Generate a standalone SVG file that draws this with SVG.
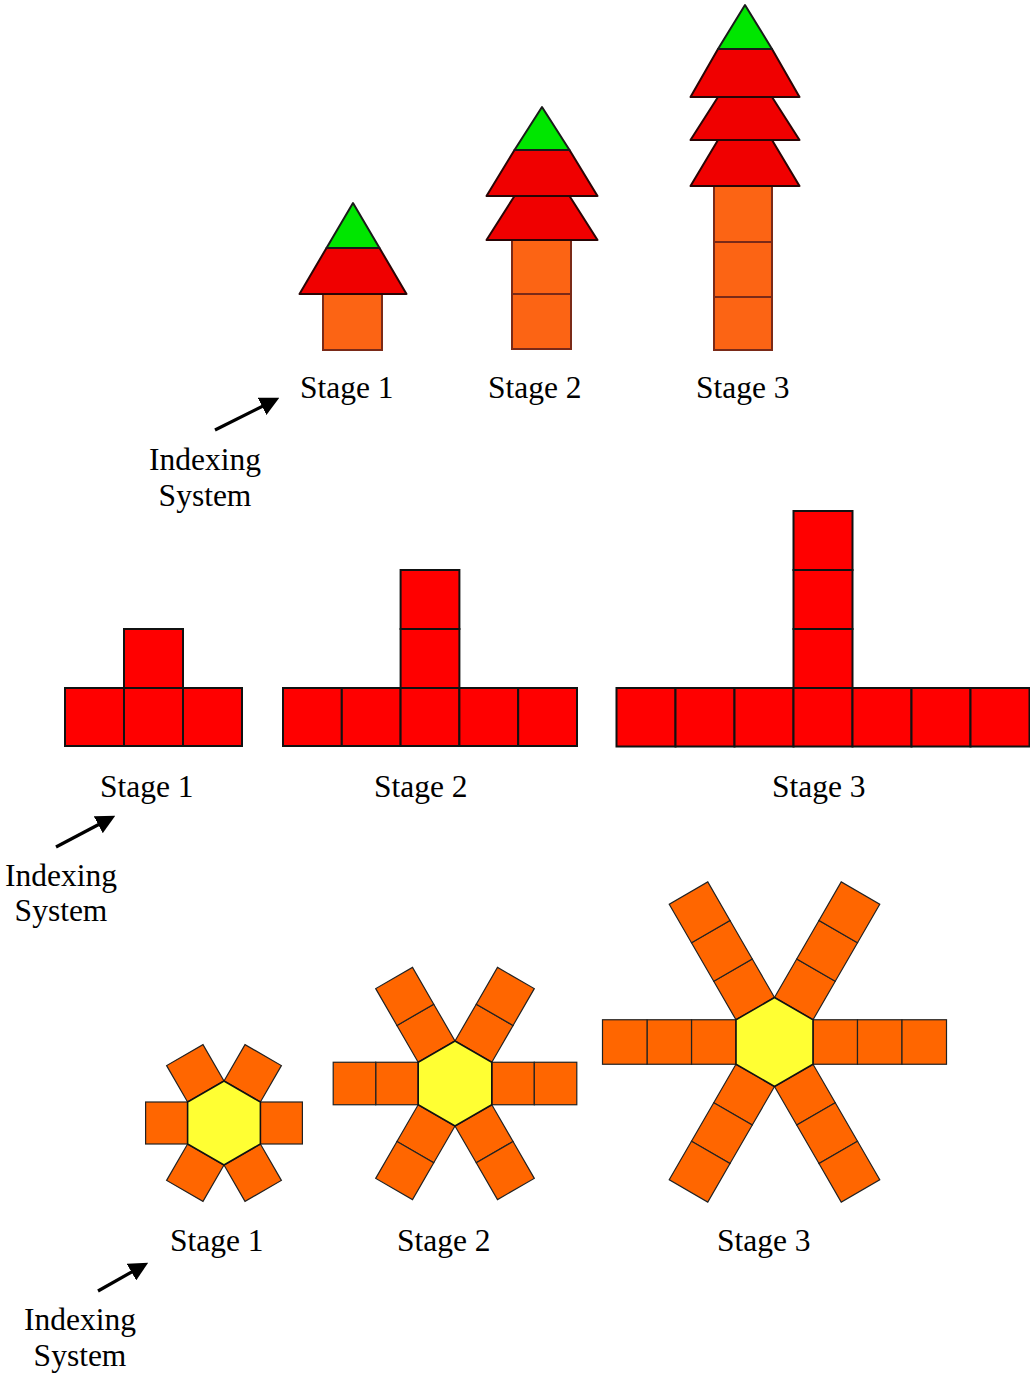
<svg xmlns="http://www.w3.org/2000/svg" width="1030" height="1374" viewBox="0 0 1030 1374">
<style>
.lbl{font-family:"Liberation Serif","Times New Roman",serif;font-size:31.5px;fill:#000}
.mid{text-anchor:middle}
.tri-g{fill:#00e600;stroke:#1a1a1a;stroke-width:2;stroke-linejoin:round}
.tri-r{fill:#f00000;stroke:#2a0505;stroke-width:2;stroke-linejoin:round}
.trunk{fill:#fc6414;stroke:#7a2a18;stroke-width:2}
.rsq{fill:#ff0000;stroke:#111;stroke-width:2}
.osq{fill:#ff6600;stroke:#222;stroke-width:1.2}
.hex{fill:#ffff33;stroke:#111;stroke-width:1.6;stroke-linejoin:round}
.arrow{stroke:#000;stroke-width:3.2;fill:none}
</style>
<defs>
<marker id="ah" markerWidth="6" markerHeight="6" refX="4.5" refY="3" orient="auto" markerUnits="strokeWidth">
<path d="M0,0 L6,3 L0,6 Z" fill="#000"/>
</marker>
</defs>

<!-- Row 1: trees -->
<g id="tree1">
<rect class="trunk" x="323" y="294" width="59" height="56"/>
<polygon class="tri-r" points="326.5,248 379.5,248 406.5,294 299.5,294"/>
<polygon class="tri-g" points="353,203 379.5,248 326.5,248"/>
</g>
<g id="tree2">
<rect class="trunk" x="512" y="240" width="59" height="54"/>
<rect class="trunk" x="512" y="294" width="59" height="55"/>
<polygon class="tri-r" points="514.5,196 569.5,196 597.5,240 486.5,240"/>
<polygon class="tri-r" points="514.5,150 569.5,150 597.5,196 486.5,196"/>
<polygon class="tri-g" points="542,107 569.5,150 514.5,150"/>
</g>
<g id="tree3">
<rect class="trunk" x="714" y="186" width="58" height="56"/>
<rect class="trunk" x="714" y="242" width="58" height="55"/>
<rect class="trunk" x="714" y="297" width="58" height="53"/>
<polygon class="tri-r" points="718,140 772,140 799.5,186 690.5,186"/>
<polygon class="tri-r" points="718,97 772,97 799.5,140 690.5,140"/>
<polygon class="tri-r" points="718,49 772,49 799.5,97 690.5,97"/>
<polygon class="tri-g" points="745,5 772,49 718,49"/>
</g>
<text class="lbl" x="300" y="398">Stage 1</text>
<text class="lbl" x="488" y="398">Stage 2</text>
<text class="lbl" x="696" y="398">Stage 3</text>
<text class="lbl mid" x="205" y="470">Indexing</text>
<text class="lbl mid" x="205" y="506">System</text>

<!-- Row 2: T shapes -->
<g id="t1">
<rect class="rsq" x="65" y="688" width="59" height="58"/>
<rect class="rsq" x="124" y="688" width="59" height="58"/>
<rect class="rsq" x="183" y="688" width="59" height="58"/>
<rect class="rsq" x="124" y="629" width="59" height="59"/>
</g>
<g id="t2">
<rect class="rsq" x="283" y="688" width="58.8" height="58"/>
<rect class="rsq" x="341.8" y="688" width="58.8" height="58"/>
<rect class="rsq" x="400.6" y="688" width="58.8" height="58"/>
<rect class="rsq" x="459.4" y="688" width="58.8" height="58"/>
<rect class="rsq" x="518.2" y="688" width="58.8" height="58"/>
<rect class="rsq" x="400.6" y="629" width="58.8" height="59"/>
<rect class="rsq" x="400.6" y="570" width="58.8" height="59"/>
</g>
<g id="t3">
<rect class="rsq" x="616.5" y="688" width="59" height="58.5"/>
<rect class="rsq" x="675.5" y="688" width="59" height="58.5"/>
<rect class="rsq" x="734.5" y="688" width="59" height="58.5"/>
<rect class="rsq" x="793.5" y="688" width="59" height="58.5"/>
<rect class="rsq" x="852.5" y="688" width="59" height="58.5"/>
<rect class="rsq" x="911.5" y="688" width="59" height="58.5"/>
<rect class="rsq" x="970.5" y="688" width="59" height="58.5"/>
<rect class="rsq" x="793.5" y="629" width="59" height="59"/>
<rect class="rsq" x="793.5" y="570" width="59" height="59"/>
<rect class="rsq" x="793.5" y="511" width="59" height="59"/>
</g>
<text class="lbl" x="100" y="797">Stage 1</text>
<text class="lbl" x="374" y="797">Stage 2</text>
<text class="lbl" x="772" y="797">Stage 3</text>
<text class="lbl mid" x="61" y="886">Indexing</text>
<text class="lbl mid" x="61" y="921">System</text>

<!-- Row 3: hexagons -->
<g id="hex1" transform="translate(224,1123)">
<g id="arm1"><rect class="osq" x="36.4" y="-21" width="42" height="42"/></g>
<use href="#arm1" transform="rotate(60)"/>
<use href="#arm1" transform="rotate(120)"/>
<use href="#arm1" transform="rotate(180)"/>
<use href="#arm1" transform="rotate(240)"/>
<use href="#arm1" transform="rotate(300)"/>
<polygon class="hex" points="0,-42 36.4,-21 36.4,21 0,42 -36.4,21 -36.4,-21"/>
</g>
<g id="hex2" transform="translate(455,1083.5)">
<g id="arm2"><rect class="osq" x="36.8" y="-21.25" width="42.5" height="42.5"/><rect class="osq" x="79.3" y="-21.25" width="42.5" height="42.5"/></g>
<use href="#arm2" transform="rotate(60)"/>
<use href="#arm2" transform="rotate(120)"/>
<use href="#arm2" transform="rotate(180)"/>
<use href="#arm2" transform="rotate(240)"/>
<use href="#arm2" transform="rotate(300)"/>
<polygon class="hex" points="0,-42.5 36.8,-21.25 36.8,21.25 0,42.5 -36.8,21.25 -36.8,-21.25"/>
</g>
<g id="hex3" transform="translate(774.5,1042)">
<g id="arm3"><rect class="osq" x="38.5" y="-22.25" width="44.5" height="44.5"/><rect class="osq" x="83" y="-22.25" width="44.5" height="44.5"/><rect class="osq" x="127.5" y="-22.25" width="44.5" height="44.5"/></g>
<use href="#arm3" transform="rotate(60)"/>
<use href="#arm3" transform="rotate(120)"/>
<use href="#arm3" transform="rotate(180)"/>
<use href="#arm3" transform="rotate(240)"/>
<use href="#arm3" transform="rotate(300)"/>
<polygon class="hex" points="0,-44.5 38.5,-22.25 38.5,22.25 0,44.5 -38.5,22.25 -38.5,-22.25"/>
</g>
<text class="lbl" x="170" y="1251">Stage 1</text>
<text class="lbl" x="397" y="1251">Stage 2</text>
<text class="lbl" x="717" y="1251">Stage 3</text>
<text class="lbl mid" x="80" y="1330">Indexing</text>
<text class="lbl mid" x="80" y="1366">System</text>

<!-- Connectors -->
<g id="connectors">
<line class="arrow" x1="215" y1="430" x2="275" y2="400" marker-end="url(#ah)"/>
<line class="arrow" x1="56" y1="847" x2="111" y2="818" marker-end="url(#ah)"/>
<line class="arrow" x1="98" y1="1291" x2="144" y2="1265" marker-end="url(#ah)"/>
</g>
</svg>
